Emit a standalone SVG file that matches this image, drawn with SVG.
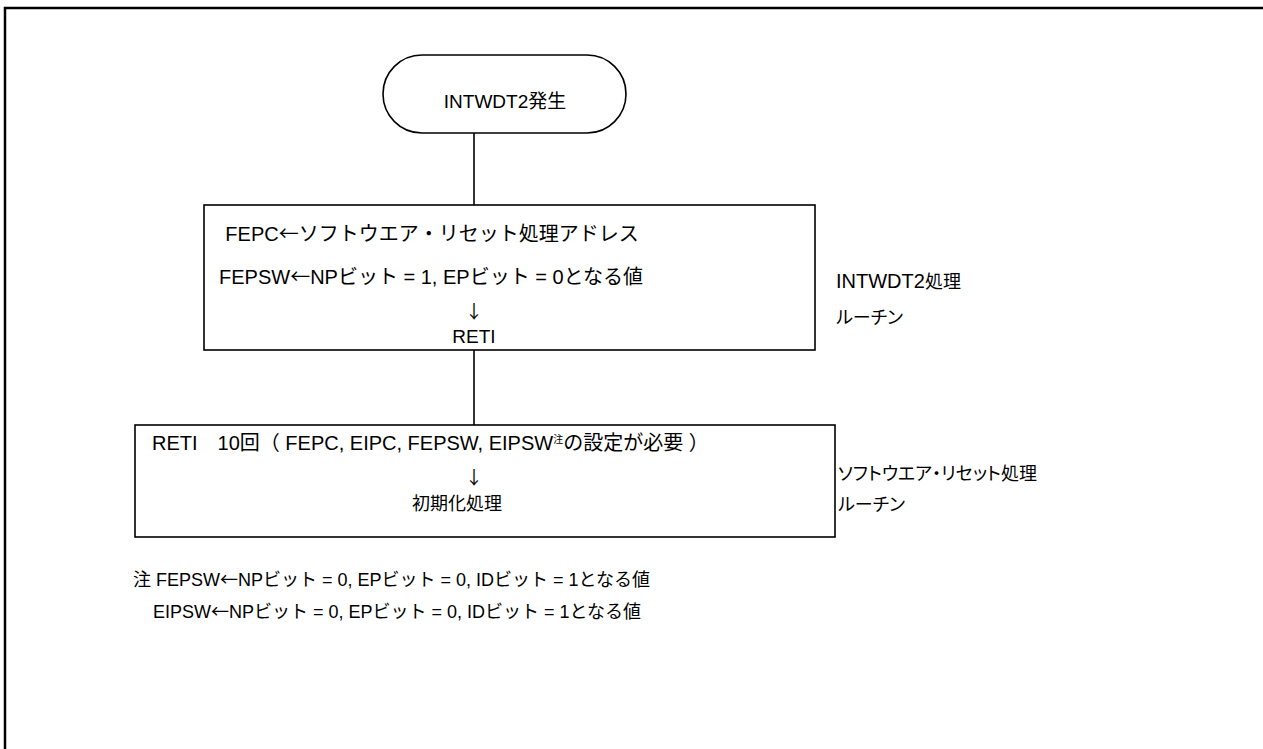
<svg xmlns="http://www.w3.org/2000/svg" width="1263" height="749" viewBox="0 0 1263 749">
<style>
.s{fill:none;stroke:#000;stroke-width:1.6}
.t{font-family:"Liberation Sans","Noto Sans CJK JP",sans-serif;font-size:18px;fill:#000}
.m{font-size:19px}
.b{font-size:20px}
.p{font-feature-settings:"palt"}
.a{font-family:"Noto Sans CJK JP",sans-serif}
.c{text-anchor:middle}
</style>
<rect width="1263" height="749" fill="#fff"/>
<path d="M5,749 V8 H1263" fill="none" stroke="#000" stroke-width="2.5"/>
<g id="connectors">
<line class="s" x1="474" y1="133" x2="474" y2="205"/>
<line class="s" x1="474" y1="350" x2="474" y2="425"/>
</g>
<g id="start">
<rect class="s" x="383" y="55" width="243" height="78" rx="39" ry="39"/>
<text class="t m c" x="505" y="108">INTWDT2発生</text>
</g>
<g id="intwdt2-routine">
<rect class="s" x="204" y="205" width="611" height="145"/>
<text class="t b c" x="432" y="241">FEPC<tspan class="a">←</tspan>ソフトウエア・リセット処理アドレス</text>
<text class="t b c" x="431" y="284">FEPSW<tspan class="a">←</tspan>NPビット = 1, EPビット = 0となる値</text>
<text class="t c a" x="474" y="318">↓</text>
<text class="t m c" x="474" y="343">RETI</text>
</g>
<g id="intwdt2-label">
<text class="t p" x="836" y="288"><tspan font-size="20">INTWDT2</tspan>処理</text>
<text class="t p" x="836" y="324">ルーチン</text>
</g>
<g id="reset-routine">
<rect class="s" x="135" y="425" width="700" height="112"/>
<text class="t b" x="152" y="450">RETI　10回（ FEPC, EIPC, FEPSW, EIPSW<tspan font-size="10" dy="-7">注</tspan><tspan dy="7">の設定が必要 ）</tspan></text>
<text class="t c a" x="474" y="484">↓</text>
<text class="t c" x="457" y="510">初期化処理</text>
</g>
<g id="reset-label">
<text class="t p" x="838" y="480">ソフトウエア・リセット処理</text>
<text class="t p" x="838" y="511">ルーチン</text>
</g>
<g id="note">
<text class="t" x="133" y="586">注 FEPSW<tspan class="a">←</tspan>NPビット = 0, EPビット = 0, IDビット = 1となる値</text>
<text class="t" x="153" y="618">EIPSW<tspan class="a">←</tspan>NPビット = 0, EPビット = 0, IDビット = 1となる値</text>
</g>
</svg>
